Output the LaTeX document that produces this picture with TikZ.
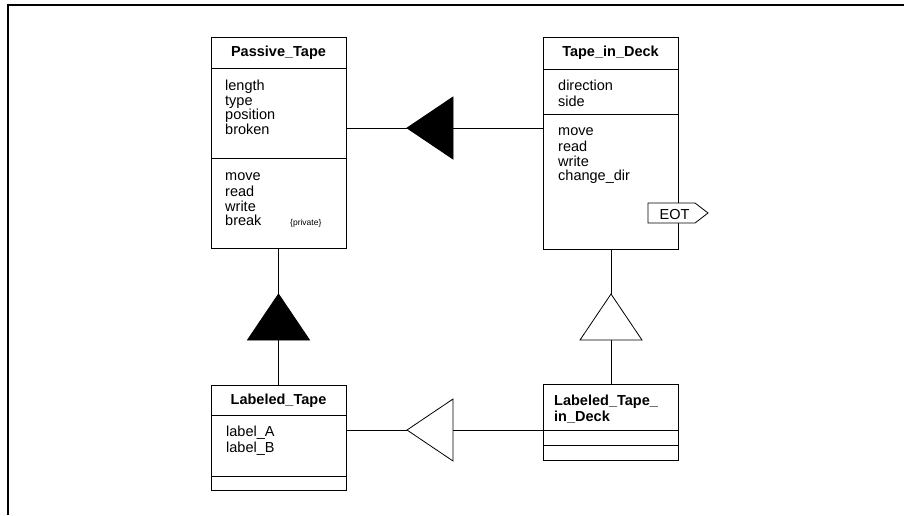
\documentclass[tikz,border=0pt]{standalone}
\usepackage{fontspec}
\setmainfont{Liberation Sans}
\begin{document}
\begin{tikzpicture}[x=1pt,y=-1pt,
  box/.style={draw, line width=0.8pt, anchor=north west, inner sep=0pt, outer sep=0pt},
  sepline/.style={line width=0.8pt},
  title/.style={font=\bfseries\fontsize{14.5}{14.5}\selectfont, anchor=base, inner sep=0pt},
  titletwo/.style={font=\bfseries\fontsize{14.5}{13.5}\selectfont, anchor=north west, align=left, inner sep=0pt},
  items/.style={font=\fontsize{14.5}{14.5}\selectfont, anchor=north west, align=left, inner sep=0pt},
  conn/.style={line width=0.8pt},
  frameline/.style={line width=1.4pt},
]
\useasboundingbox (0,0) rectangle (904,515);
% frame
\draw[frameline] (8,515) -- (8,5) -- (904,5);

% Passive_Tape
\node[box, minimum width=135pt, minimum height=211pt] (pt) at (211,37) {};
\draw[sepline] (211,68.5) -- (346,68.5);
\draw[sepline] (211,158) -- (346,158);
\node[title] (ptt) at (278.5,56.5) {Passive\_Tape};
\node[items] (pta) at (225,79.85) {\strut length\\type\\position\\broken};
\node[items] (ptm) at (225,170.35) {\strut move\\read\\write\\break};
\node[font=\fontsize{8.5}{9}\selectfont, anchor=base west, inner sep=0pt] (ptp) at (290,225.5) {\{private\}};

% Tape_in_Deck
\node[box, minimum width=135pt, minimum height=212pt] (tid) at (543,37) {};
\draw[sepline] (543,69.5) -- (678,69.5);
\draw[sepline] (543,114) -- (678,114);
\node[title] (tidt) at (610.5,56.5) {Tape\_in\_Deck};
\node[items] (tida) at (558,79.85) {\strut direction\\side};
\node[items] (tidm) at (558,125.35) {\strut move\\read\\write\\change\_dir};
\draw[line width=0.8pt, fill=white] (648,203) -- (695,203) -- (708,213) -- (695,223) -- (648,223) -- cycle;
\node[font=\fontsize{14.5}{14.5}\selectfont, anchor=base, inner sep=0pt] (eot) at (674.5,219.5) {EOT};

% Labeled_Tape
\node[box, minimum width=135pt, minimum height=105pt] (lt) at (211,385) {};
\draw[sepline] (211,415) -- (346,415);
\draw[sepline] (211,476) -- (346,476);
\node[title] (ltt) at (278.5,404) {Labeled\_Tape};
\node[items] (lta) at (226,425.85) {\strut label\_A\\label\_B};

% Labeled_Tape_in_Deck
\node[box, minimum width=135pt, minimum height=76pt] (ltid) at (543,384) {};
\draw[sepline] (543,430) -- (678,430);
\draw[sepline] (543,445) -- (678,445);
\node[titletwo] (ltidt) at (554,395) {\strut Labeled\_Tape\_\\in\_Deck};

% connectors
\coordinate (g1) at (407,128);
\draw[conn] (pt.east |- g1) -- (tid.west |- g1);
\draw[conn, fill=black] (g1) -- ++(46,-31) -- ++(0,62) -- cycle;

\coordinate (g2) at (407,430);
\draw[conn] (lt.east |- g2) -- (ltid.west |- g2);
\draw[conn, fill=white] (g2) -- ++(46,-31) -- ++(0,62) -- cycle;

\coordinate (g3) at (278.5,294);
\draw[conn] (pt.south -| g3) -- (lt.north -| g3);
\draw[conn, fill=black] (g3) -- ++(-31,46) -- ++(62,0) -- cycle;

\coordinate (g4) at (611,294);
\draw[conn] (tid.south -| g4) -- (ltid.north -| g4);
\draw[conn, fill=white] (g4) -- ++(-31,46) -- ++(62,0) -- cycle;
\end{tikzpicture}
\end{document}
